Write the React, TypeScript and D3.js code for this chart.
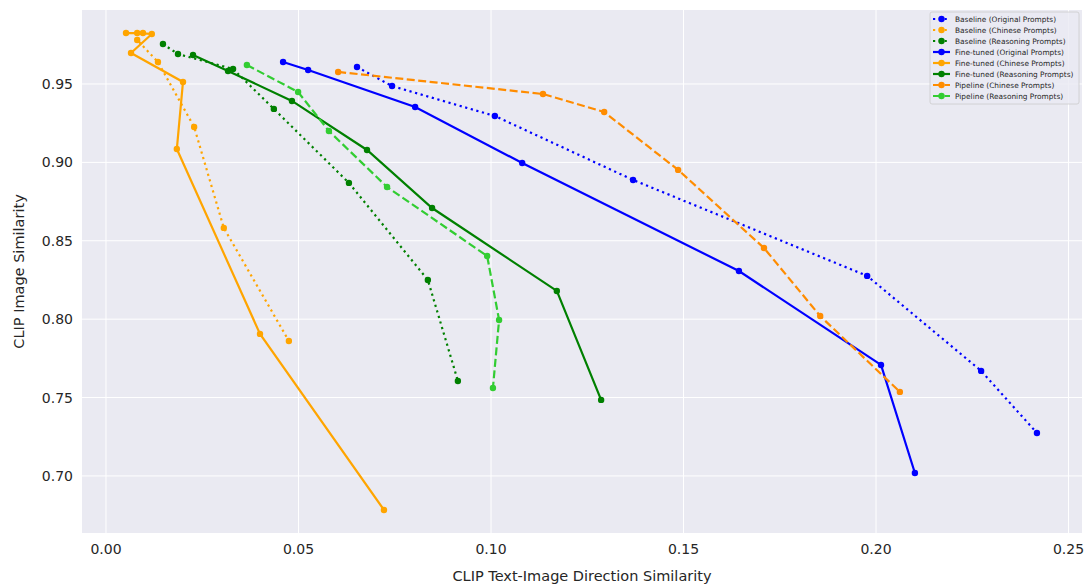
import React from "react";
import * as d3 from "d3";

const baselineOriginalX = [0.0652, 0.0743, 0.1010, 0.1369, 0.1977, 0.2273, 0.2418];
const baselineOriginalY = [0.9608, 0.9487, 0.9296, 0.8888, 0.8276, 0.7670, 0.7274];

const baselineChineseX = [0.0096, 0.0081, 0.0135, 0.0229, 0.0306, 0.0475];
const baselineChineseY = [0.9825, 0.9781, 0.9640, 0.9226, 0.8582, 0.7861];

const baselineReasoningX = [0.0148, 0.0187, 0.0330, 0.0436, 0.0631, 0.0836, 0.0914];
const baselineReasoningY = [0.9755, 0.9691, 0.9596, 0.9341, 0.8869, 0.8250, 0.7606];

const finetunedOriginalX = [0.0460, 0.0525, 0.0803, 0.1081, 0.1644, 0.2013, 0.2101];
const finetunedOriginalY = [0.9640, 0.9589, 0.9353, 0.8996, 0.8307, 0.7708, 0.7019];

const finetunedChineseX = [0.0052, 0.0081, 0.0119, 0.0065, 0.0200, 0.0184, 0.0400, 0.0722];
const finetunedChineseY = [0.9825, 0.9825, 0.9819, 0.9698, 0.9513, 0.9085, 0.7906, 0.6783];

const finetunedReasoningX = [0.0226, 0.0317, 0.0483, 0.0678, 0.0847, 0.1171, 0.1286];
const finetunedReasoningY = [0.9685, 0.9583, 0.9392, 0.9079, 0.8709, 0.8180, 0.7485];

const pipelineChineseX = [0.0603, 0.1135, 0.1294, 0.1486, 0.1709, 0.1855, 0.2062];
const pipelineChineseY = [0.9577, 0.9436, 0.9321, 0.8952, 0.8454, 0.8020, 0.7536];

const pipelineReasoningX = [0.0366, 0.0499, 0.0579, 0.0730, 0.0990, 0.1021, 0.1005];
const pipelineReasoningY = [0.9621, 0.9449, 0.9200, 0.8843, 0.8403, 0.7995, 0.7561];

const xTicks = [0.0, 0.05, 0.1, 0.15, 0.2, 0.25];
const yTicks = [0.7, 0.75, 0.8, 0.85, 0.9, 0.95];

type Series = { name: string; xs: number[]; ys: number[]; color: string; style: "dotted" | "solid" | "dashed" };

const series: Series[] = [
  { name: "Baseline (Original Prompts)", xs: baselineOriginalX, ys: baselineOriginalY, color: "#0000ff", style: "dotted" },
  { name: "Baseline (Chinese Prompts)", xs: baselineChineseX, ys: baselineChineseY, color: "#ffa500", style: "dotted" },
  { name: "Baseline (Reasoning Prompts)", xs: baselineReasoningX, ys: baselineReasoningY, color: "#008000", style: "dotted" },
  { name: "Fine-tuned (Original Prompts)", xs: finetunedOriginalX, ys: finetunedOriginalY, color: "#0000ff", style: "solid" },
  { name: "Fine-tuned (Chinese Prompts)", xs: finetunedChineseX, ys: finetunedChineseY, color: "#ffa500", style: "solid" },
  { name: "Fine-tuned (Reasoning Prompts)", xs: finetunedReasoningX, ys: finetunedReasoningY, color: "#008000", style: "solid" },
  { name: "Pipeline (Chinese Prompts)", xs: pipelineChineseX, ys: pipelineChineseY, color: "#ff8c00", style: "dashed" },
  { name: "Pipeline (Reasoning Prompts)", xs: pipelineReasoningX, ys: pipelineReasoningY, color: "#32cd32", style: "dashed" },
];

const W = 1088, H = 587;
const left = 82, right = 1082, top = 10, bottom = 533;

const dashFor = (s: string) => (s === "dotted" ? "2.2,3.6" : s === "dashed" ? "8,3.5" : undefined);

export default function App() {
  const x = d3.scaleLinear().domain([-0.00623, 0.2535]).range([left, right]);
  const y = d3.scaleLinear().domain([0.6636, 0.9972]).range([bottom, top]);
  const font = "'DejaVu Sans', sans-serif";
  const line = d3.line<[number, number]>().x(d => x(d[0])).y(d => y(d[1]));

  const legX = 930, legY = 12, legW = 149, legH = 92, rowH = 11;

  return (
    <svg width={W} height={H} style={{ position: "absolute", left: 0, top: 0 }} fontFamily={font}>
      <rect x={0} y={0} width={W} height={H} fill="#ffffff" />
      <rect x={left} y={top} width={right - left} height={bottom - top} fill="#eaeaf2" />
      {xTicks.map(t => (
        <line key={"gx" + t} x1={x(t)} x2={x(t)} y1={top} y2={bottom} stroke="#ffffff" strokeWidth={1} />
      ))}
      {yTicks.map(t => (
        <line key={"gy" + t} x1={left} x2={right} y1={y(t)} y2={y(t)} stroke="#ffffff" strokeWidth={1} />
      ))}
      {xTicks.map(t => (
        <text key={"tx" + t} x={x(t)} y={554} textAnchor="middle" fontSize={14} fill="#262626">
          {t.toFixed(2)}
        </text>
      ))}
      {yTicks.map(t => (
        <text key={"ty" + t} x={73} y={y(t) + 5} textAnchor="end" fontSize={14} fill="#262626">
          {t.toFixed(2)}
        </text>
      ))}
      <text x={(left + right) / 2} y={581} textAnchor="middle" fontSize={14.5} fill="#262626">
        CLIP Text-Image Direction Similarity
      </text>
      <text transform={`translate(24,${(top + bottom) / 2}) rotate(-90)`} textAnchor="middle" fontSize={14.5} fill="#262626">
        CLIP Image Similarity
      </text>
      {series.map(s => {
        const pts: [number, number][] = s.xs.map((v, i) => [v, s.ys[i]]);
        return (
          <g key={s.name}>
            <path d={line(pts) || ""} fill="none" stroke={s.color} strokeWidth={2.2} strokeDasharray={dashFor(s.style)} />
            {pts.map((p, i) => (
              <circle key={i} cx={x(p[0])} cy={y(p[1])} r={3.2} fill={s.color} />
            ))}
          </g>
        );
      })}
      <g>
        <rect x={legX} y={legY} width={legW} height={legH} fill="#eaeaf2" fillOpacity={0.8} stroke="#cccccc" strokeWidth={0.8} rx={2} />
        {series.map((s, i) => {
          const cy = legY + 7 + i * rowH;
          return (
            <g key={"leg" + s.name}>
              <line x1={legX + 3} x2={legX + 20} y1={cy} y2={cy} stroke={s.color} strokeWidth={2.2} strokeDasharray={dashFor(s.style)} />
              <circle cx={legX + 11.5} cy={cy} r={3.2} fill={s.color} />
              <text x={legX + 25} y={cy + 2.6} fontSize={7.4} fill="#262626">
                {s.name}
              </text>
            </g>
          );
        })}
      </g>
    </svg>
  );
}
